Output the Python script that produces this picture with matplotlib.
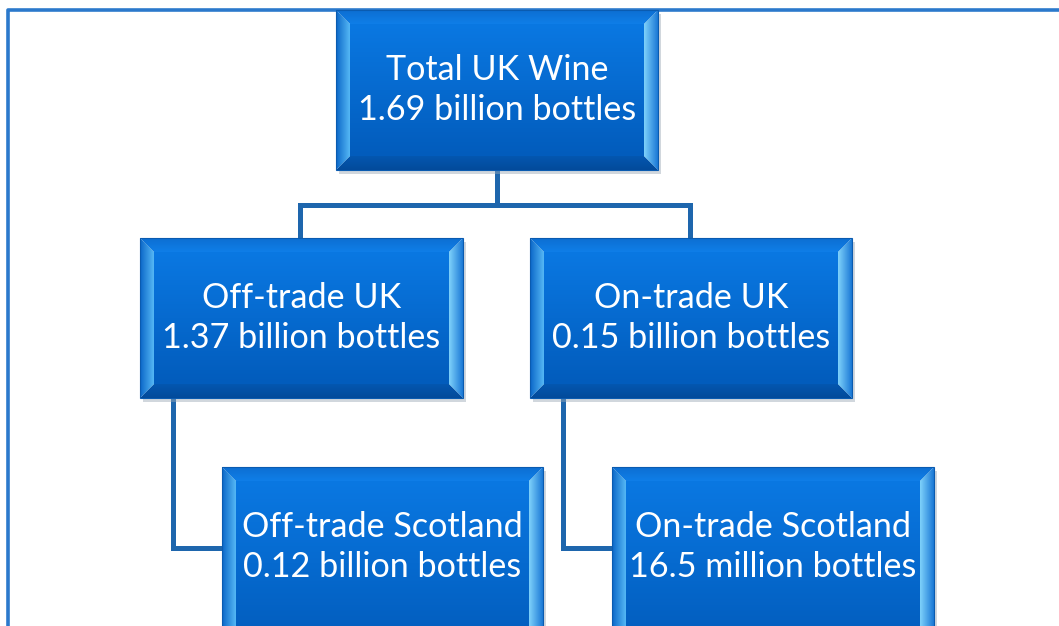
import numpy as np
import matplotlib.pyplot as plt
from matplotlib.patches import Polygon
from matplotlib.colors import LinearSegmentedColormap

# chart content
titles = ['Total UK Wine', 'Off-trade UK', 'On-trade UK',
          'Off-trade Scotland', 'On-trade Scotland']
values = ['1.69 billion bottles', '1.37 billion bottles', '0.15 billion bottles',
          '0.12 billion bottles', '16.5 million bottles']
parents = [None, 0, 0, 1, 2]

# layout in pixel units (x0, y0, x1, y1)
boxes = [(336, 10, 658, 170),
         (140, 238, 463, 398),
         (530, 238, 852, 398),
         (222, 467, 543, 660),
         (612, 467, 934, 660)]

W, H = 1059, 626
fig = plt.figure(figsize=(W / 100, H / 100), dpi=100)
ax = fig.add_axes([0, 0, 1, 1])
ax.set_xlim(0, W)
ax.set_ylim(H, 0)
ax.axis('off')

line_col = '#1e66ad'

# outer frame
ax.plot([8, 8, W + 5], [H + 5, 10, 10], color='#2b79cc', lw=2.6, solid_capstyle='butt', zorder=1)


def grad_fill(poly, c1, c2, horizontal=False, z=3):
    p = Polygon(poly, closed=True, facecolor='none', edgecolor='none', zorder=z)
    ax.add_patch(p)
    xs = [q[0] for q in poly]
    ys = [q[1] for q in poly]
    cmap = LinearSegmentedColormap.from_list('g', [c1, c2])
    g = np.linspace(0, 1, 256)
    img = g.reshape(1, -1) if horizontal else g.reshape(-1, 1)
    im = ax.imshow(img, cmap=cmap, extent=(min(xs), max(xs), max(ys), min(ys)),
                   aspect='auto', origin='upper', zorder=z, interpolation='bicubic')
    im.set_clip_path(p)


# connectors
for i, par in enumerate(parents):
    if par is None:
        continue
    px0, py0, px1, py1 = boxes[par]
    cx0, cy0, cx1, cy1 = boxes[i]
    if par == 0:
        pmx = (px0 + px1) / 2
        mid_y = 205
        ax.plot([pmx, pmx], [py1, mid_y], color=line_col, lw=3.6, zorder=2)
        side = 300 if i == 1 else 690
        ax.plot([pmx, side, side], [mid_y, mid_y, cy0], color=line_col, lw=3.6,
                zorder=2, solid_joinstyle='miter')
    else:
        vx = px0 + 33
        hy = cy0 + 81
        ax.plot([vx, vx, cx0], [py1, hy, hy], color=line_col, lw=3.6,
                zorder=2, solid_joinstyle='miter')

# boxes
b = 14
for (x0, y0, x1, y1), t, v in zip(boxes, titles, values):
    # shadow
    ax.add_patch(Polygon([(x0 + 3, y0 + 4), (x1 + 3, y0 + 4), (x1 + 3, y1 + 4), (x0 + 3, y1 + 4)],
                         facecolor='#9aa7b5', edgecolor='none', alpha=0.45, zorder=2.5))
    # center
    grad_fill([(x0 + b, y0 + b), (x1 - b, y0 + b), (x1 - b, y1 - b), (x0 + b, y1 - b)],
              '#0a78e2', '#025cbc')
    # top bevel
    grad_fill([(x0, y0), (x1, y0), (x1 - b, y0 + b), (x0 + b, y0 + b)],
              '#0d6fd2', '#0f7ee8')
    # bottom bevel
    grad_fill([(x0 + b, y1 - b), (x1 - b, y1 - b), (x1, y1), (x0, y1)],
              '#0457b0', '#024a9a')
    # left bevel
    grad_fill([(x0, y0), (x0 + b, y0 + b), (x0 + b, y1 - b), (x0, y1)],
              '#0a66c8', '#55b8f5', horizontal=True)
    # right bevel
    grad_fill([(x1 - b, y0 + b), (x1, y0), (x1, y1), (x1 - b, y1 - b)],
              '#7fd2fb', '#1a78d6', horizontal=True)
    # outline
    ax.add_patch(Polygon([(x0, y0), (x1, y0), (x1, y1), (x0, y1)], closed=True,
                         facecolor='none', edgecolor='#0a5bb0', lw=0.8, zorder=4))
    cy = (y0 + y1) / 2 if y1 <= H else y0 + 80
    cx = (x0 + x1) / 2
    ax.text(cx, cy, t + '\n' + v, ha='center', va='center', color='white',
            fontsize=24.6, family=['Lato', 'DejaVu Sans'], linespacing=1.33, zorder=5)

fig.savefig('out.png', dpi=100)
